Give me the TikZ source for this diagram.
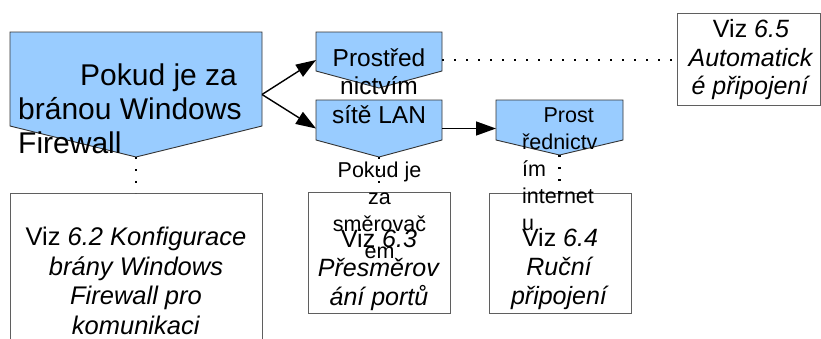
\documentclass[tikz,border=0pt]{standalone}
\usepackage{fontspec}
\setmainfont{Liberation Sans}
\usetikzlibrary{arrows.meta,calc}
\definecolor{shapeblue}{RGB}{153,204,255}
\definecolor{boxgray}{RGB}{95,95,95}
\newcommand\pentshape[2]{\draw[blueshape] (#1.north west) -- (#1.north east) -- ($(#1.south east)+(0,-#2)$) -- (#1.south) -- ($(#1.south west)+(0,-#2)$) -- cycle;}
\tikzset{
  frame/.style={draw=none, inner sep=0pt, outer sep=0pt},
  blueshape/.style={draw=black!80, fill=shapeblue, line width=0.9pt, line join=miter},
  refbox/.style={draw=boxgray, line width=1pt, fill=white, inner sep=0pt, outer sep=0pt},
  arr/.style={line width=1.4pt, -{Triangle[length=20pt,width=14pt]}},
  dots/.style={line width=2.2pt, dash pattern=on 2.2pt off 9.8pt},
  tA/.style={inner sep=0pt, font=\fontsize{30}{34}\selectfont},
  tB/.style={inner sep=0pt, font=\fontsize{24.5}{28.5}\selectfont},
  tS/.style={inner sep=0pt, font=\fontsize{21.5}{27}\selectfont},
  tD/.style={inner sep=0pt, font=\fontsize{25.5}{29.5}\selectfont},
  tV/.style={inner sep=0pt, font=\fontsize{25}{29}\selectfont},
}
\begin{document}
\begin{tikzpicture}[x=1pt,y=-1pt]
\clip (0,0) rectangle (821,338);
\fill[white] (0,0) rectangle (821,338);
% frames of the shapes
\node[frame, minimum width=252pt, minimum height=125pt] (A) at (136,94.5) {};
\node[frame, minimum width=126pt, minimum height=56pt] (B1) at (379,60) {};
\node[frame, minimum width=126pt, minimum height=57pt] (B2) at (379,128.5) {};
\node[frame, minimum width=127pt, minimum height=55pt] (C) at (559.5,127.5) {};
% blue pentagons
\pentshape{A}{31}
\pentshape{B1}{17}
\pentshape{B2}{17}
\pentshape{C}{15}
% reference boxes
\node[refbox, minimum width=252pt, minimum height=227pt] (D1) at (136,306.5) {};
\node[refbox, minimum width=142pt, minimum height=121pt] (D2) at (379,252.5) {};
\node[refbox, minimum width=142pt, minimum height=120pt] (D3) at (560,253) {};
\node[refbox, minimum width=143pt, minimum height=92pt] (E) at (748.5,59) {};
% connectors
\draw[arr] (A.east) -- (B1.west);
\draw[arr] (A.east) -- (B2.west);
\draw[arr] (B2.east) -- (B2.east -| C.west);
\draw[dots] (B1.east) -- (B1.east -| E.west);
\draw[dots] (A.south) -- (D1.north);
\draw[dots] (B2.south) -- (D2.north);
\draw[dots] (C.south) -- (C.south |- D3.north);
% texts
\node[tA, anchor=base west] (At1) at (80,85) {Pokud je za};
\node[tA, anchor=base west] (At2) at (18,119) {bránou Windows};
\node[tA, anchor=base west] (At3) at (18,153) {Firewall};
\node[tB, anchor=base] (B1t1) at (379,66) {Prostřed};
\node[tB, anchor=base] (B1t2) at (379,94.5) {nictvím};
\node[tB, anchor=base] (B1t3) at (379,123) {sítě LAN};
\node[tS, anchor=base] (B2t1) at (379.5,177) {Pokud je};
\node[tS, anchor=base] (B2t2) at (379.5,204) {za};
\node[tS, anchor=base] (B2t3) at (379.5,231) {směrovač};
\node[tS, anchor=base] (B2t4) at (379.5,258) {em};
\node[tS, anchor=base east] (Ct1) at (594,122) {Prost};
\node[tS, anchor=base west] (Ct2) at (522,149) {řednictv};
\node[tS, anchor=base west] (Ct3) at (522,176) {ím};
\node[tS, anchor=base west] (Ct4) at (522,203) {internet};
\node[tS, anchor=base west] (Ct5) at (522,230) {u};
\node[tD, anchor=base] (D1t1) at (136,245) {Viz \textit{6.2 Konfigurace}};
\node[tD, anchor=base] (D1t2) at (136,275) {\textit{brány Windows}};
\node[tD, anchor=base] (D1t3) at (136,304.5) {\textit{Firewall pro}};
\node[tD, anchor=base] (D1t4) at (136,334) {\textit{komunikaci}};
\node[tV, anchor=base] (D2t1) at (379,247) {Viz \textit{6.3}};
\node[tV, anchor=base] (D2t2) at (379,276) {\textit{Přesměrov}};
\node[tV, anchor=base] (D2t3) at (379,305) {\textit{ání portů}};
\node[tV, anchor=base] (D3t1) at (560,246) {Viz \textit{6.4}};
\node[tV, anchor=base] (D3t2) at (560,275) {\textit{Ruční}};
\node[tV, anchor=base] (D3t3) at (560,304) {\textit{připojení}};
\node[tV, anchor=base] (Et1) at (751,37.5) {Viz \textit{6.5}};
\node[tV, anchor=base] (Et2) at (751,66) {\textit{Automatick}};
\node[tV, anchor=base] (Et3) at (751,94.5) {\textit{é připojení}};
\end{tikzpicture}
\end{document}
